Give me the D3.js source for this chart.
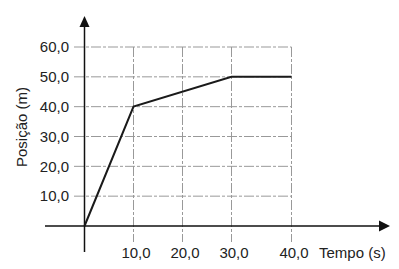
<!DOCTYPE html>
<html>
<head>
<meta charset="utf-8">
<script src="https://cdn.jsdelivr.net/npm/d3@7"></script>
<style>
  body { margin: 0; background: #fff; }
  text { font-family: Arial, "Liberation Sans", sans-serif; fill: #222; }
</style>
</head>
<body>
<div id="chart"></div>
<script>
// position vs. time readings
const tempo = [0, 10, 30, 40];
const posicao = [0, 40, 50, 50];
const xTicks = [10, 20, 30, 40];
const yTicks = [10, 20, 30, 40, 50, 60];

const width = 399;
const height = 269;

// the printed grid is a bit uneven on the time axis, so map it piecewise
const x = d3.scaleLinear().domain([0, 30, 40]).range([84.5, 231.5, 291.5]);
const y = d3.scaleLinear().domain([0, 60]).range([226, 47]);

const fmt = d => d3.format(".1f")(d).replace(".", ",");

const svg = d3.select("#chart")
  .append("svg")
  .attr("width", width)
  .attr("height", height);

svg.append("rect").attr("width", width).attr("height", height).attr("fill", "#fff");

// grid
const grid = svg.append("g")
  .attr("stroke", "#999")
  .attr("stroke-width", 1)
  .attr("stroke-dasharray", "10,2,3,2");

grid.selectAll(".hgrid")
  .data(yTicks)
  .enter()
  .append("line")
  .attr("class", "hgrid")
  .attr("x1", 74)
  .attr("x2", x(40))
  .attr("y1", d => y(d))
  .attr("y2", d => y(d));

grid.selectAll(".vgrid")
  .data(xTicks)
  .enter()
  .append("line")
  .attr("class", "vgrid")
  .attr("x1", d => x(d))
  .attr("x2", d => x(d))
  .attr("y1", y(60))
  .attr("y2", 242);

// axes (labels only, lines drawn separately with arrows)
const yAxis = svg.append("g")
  .attr("transform", "translate(" + x(0) + ",0)")
  .call(d3.axisLeft(y).tickValues(yTicks).tickFormat(fmt).tickSize(0).tickPadding(15.5));
yAxis.select(".domain").remove();
yAxis.selectAll("text").style("font-size", "15px").attr("fill", "#222");

const xAxis = svg.append("g")
  .attr("transform", "translate(2," + y(0) + ")")
  .call(d3.axisBottom(x).tickValues(xTicks).tickFormat(fmt).tickSize(0).tickPadding(21));
xAxis.select(".domain").remove();
xAxis.selectAll("text").style("font-size", "15px").attr("fill", "#222");

svg.append("line")
  .attr("x1", 45).attr("x2", 384)
  .attr("y1", y(0)).attr("y2", y(0))
  .attr("stroke", "#111").attr("stroke-width", 1.5);

svg.append("line")
  .attr("x1", x(0)).attr("x2", x(0))
  .attr("y1", 252).attr("y2", 22)
  .attr("stroke", "#111").attr("stroke-width", 1.5);

// arrow heads
svg.append("path")
  .attr("d", `M${x(0)},16 L${x(0) - 5},27 L${x(0) + 5},27 Z`)
  .attr("fill", "#111");
svg.append("path")
  .attr("d", `M390,${y(0)} L379,${y(0) - 5.5} L379,${y(0) + 5.5} Z`)
  .attr("fill", "#111");

// axis titles
svg.append("text")
  .attr("x", 319)
  .attr("y", 258)
  .style("font-size", "15px")
  .text("Tempo (s)");

svg.append("text")
  .attr("transform", "translate(27,127) rotate(-90)")
  .attr("text-anchor", "middle")
  .style("font-size", "15px")
  .text("Posição (m)");

// data line
const line = d3.line()
  .x((d, i) => x(tempo[i]))
  .y(d => y(d));

svg.append("path")
  .datum(posicao)
  .attr("d", line)
  .attr("fill", "none")
  .attr("stroke", "#1a1a1a")
  .attr("stroke-width", 2)
  .attr("stroke-linejoin", "miter");
</script>
</body>
</html>
